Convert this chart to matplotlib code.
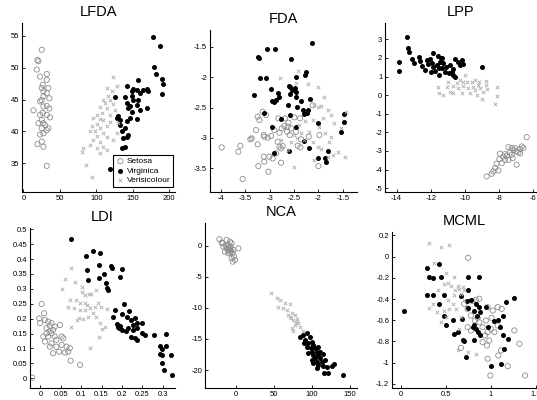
import numpy as np
import matplotlib
matplotlib.use('Agg')
import matplotlib.pyplot as plt

plt.rcParams['font.family'] = ['Liberation Sans', 'DejaVu Sans']

class_names = ['Setosa', 'Virginica', 'Verisicolour']

# ---- LFDA ----
lfda_setosa = [(25.1,52.8),(19.2,51.2),(20.5,51.0),(18.3,49.7),(22.8,48.6),(32.0,49.0),(32.0,48.1),
               (26.5,47.3),(25.1,46.8),(27.4,46.3),(27.4,45.5),(32.0,46.0),(34.2,46.8),(35.6,45.2),
               (25.1,44.9),(22.8,44.7),(13.7,43.3),(32.0,44.0),(27.4,43.9),(35.6,43.6),(26.5,42.9),
               (22.8,42.6),(32.0,42.6),(36.5,42.2),(27.4,41.3),(29.7,41.0),(25.1,40.5),(32.0,40.2),
               (27.4,39.7),(22.8,39.5),(34.2,40.5),(19.2,38.0),(25.1,38.4),(27.4,37.6),(32.0,34.6),
               (25.1,41.8),(20.5,41.3)]
lfda_virginica = [(178.1,54.8),(187.2,53.4),(179.0,50.1),(182.6,49.0),(189.5,48.2),(191.8,47.5),
                  (156.6,48.1),(141.6,47.1),(150.7,46.6),(155.3,46.5),(148.4,46.3),(164.4,46.5),
                  (168.9,46.6),(171.2,46.3),(159.8,46.0),(148.4,45.5),(139.3,45.4),(125.6,45.4),
                  (150.7,44.9),(157.5,44.9),(141.6,44.5),(155.3,44.2),(146.1,44.0),(143.8,43.6),
                  (168.9,43.6),(159.8,43.4),(148.4,43.0),(130.1,42.4),(127.9,42.1),(132.4,41.8),
                  (146.1,42.1),(155.3,41.9),(141.6,41.7),(132.4,41.0),(139.3,40.5),(134.7,40.0),
                  (143.8,39.5),(137.0,38.9),(141.6,39.1),(134.7,37.4),(139.3,37.5),(189.5,45.9),
                  (118.7,34.1)]
lfda_versicolour = [(122.4,48.5),(114.2,46.8),(127.9,47.1),(121.0,46.3),(116.4,45.5),(109.6,44.9),
                    (118.7,44.9),(111.9,44.4),(123.3,44.3),(105.0,43.9),(114.2,43.6),(125.6,43.4),
                    (100.5,42.6),(107.3,42.9),(118.7,42.6),(95.9,42.1),(105.0,41.9),(109.6,41.8),
                    (118.7,41.5),(100.5,41.2),(93.6,40.9),(114.2,40.8),(105.0,40.5),(98.2,40.1),
                    (91.3,40.0),(109.6,39.7),(100.5,39.3),(114.2,39.2),(95.9,38.7),(105.0,38.4),
                    (91.3,37.9),(100.5,37.4),(109.6,37.5),(114.2,37.1),(82.2,37.4),(105.0,36.6),
                    (79.9,36.7),(85.8,34.8),(93.6,32.8),(123.3,38.7),(127.9,39.7),(130.1,41.3)]

# ---- FDA ----
fda_setosa = [(-3.986,-3.156),(-3.603,-3.129),(-3.644,-3.227),(-3.397,-3.024),(-3.370,-3.008),
              (-3.247,-3.106),(-3.123,-2.953),(-3.110,-2.980),(-3.041,-2.997),(-2.973,-2.969),
              (-3.123,-3.309),(-3.110,-3.391),(-3.007,-3.309),(-2.938,-3.337),(-2.870,-3.254),
              (-2.836,-3.063),(-2.801,-3.145),(-2.767,-3.172),(-2.733,-3.134),(-2.904,-2.871),
              (-2.753,-2.843),(-2.699,-2.805),(-3.247,-2.651),(-3.212,-2.706),(-3.075,-2.624),
              (-2.822,-2.679),(-2.685,-2.679),(-2.616,-2.750),(-2.630,-2.816),(-2.562,-2.843),
              (-2.493,-2.662),(-2.377,-2.679),(-2.589,-2.953),(-2.356,-3.024),(-2.459,-2.898),
              (-2.644,-2.898),(-3.233,-3.463),(-3.027,-3.556),(-3.555,-3.677),(-2.767,-3.408),
              (-1.979,-2.953),(-2.000,-3.463),(-2.425,-3.128),(-2.370,-3.156),(-2.199,-2.980),
              (-2.801,-2.914),(-3.281,-2.871),(-2.116,-2.465),(-3.144,-2.569)]
fda_virginica = [(-2.137,-1.445),(-3.233,-1.664),(-3.212,-1.692),(-3.055,-1.544),(-2.884,-1.544),
                 (-2.562,-1.703),(-2.247,-1.911),(-2.274,-1.966),(-3.199,-2.010),(-3.075,-2.010),
                 (-2.452,-2.004),(-3.329,-2.295),(-2.973,-2.202),(-2.822,-2.268),(-2.801,-2.333),
                 (-2.959,-2.388),(-2.904,-2.405),(-2.870,-2.377),(-2.575,-2.169),(-2.596,-2.147),
                 (-2.541,-2.213),(-2.582,-2.284),(-2.473,-2.185),(-2.452,-2.251),(-2.466,-2.333),
                 (-2.356,-2.388),(-2.164,-2.361),(-2.630,-2.454),(-2.438,-2.487),(-2.315,-2.542),
                 (-2.288,-2.613),(-2.226,-2.586),(-2.205,-2.542),(-3.110,-2.596),(-2.767,-2.690),
                 (-2.582,-2.624),(-2.959,-2.816),(-2.459,-2.816),(-2.000,-2.761),(-1.466,-2.607),
                 (-1.466,-2.734),(-2.301,-3.046),(-2.192,-3.161),(-1.808,-3.211),(-1.863,-3.331),
                 (-2.000,-3.337),(-1.842,-3.402),(-2.904,-3.243),(-2.596,-3.216),(-1.534,-2.898)]
fda_versicolour = [(-2.411,-1.900),(-2.781,-2.010),(-2.459,-2.092),(-2.219,-2.114),(-2.014,-2.169),
                   (-1.877,-2.333),(-2.082,-2.459),(-2.014,-2.487),(-1.945,-2.476),(-1.808,-2.542),
                   (-1.740,-2.624),(-1.671,-2.761),(-1.534,-2.843),(-1.911,-2.679),(-2.116,-2.706),
                   (-2.274,-2.717),(-2.390,-2.788),(-2.356,-2.925),(-2.493,-2.953),(-2.288,-3.035),
                   (-2.116,-3.063),(-2.014,-3.145),(-1.945,-3.189),(-1.740,-2.980),(-1.774,-3.063),
                   (-1.603,-3.227),(-1.705,-3.282),(-1.808,-3.309),(-2.096,-3.364),(-2.493,-3.474),
                   (-2.630,-3.200),(-2.767,-3.035),(-2.562,-3.063),(-2.438,-3.008),(-2.185,-2.898),
                   (-1.979,-2.816),(-1.863,-2.925),(-1.432,-2.569),(-1.452,-3.309),(-3.384,-2.980)]

# ---- LPP ----
lpp_setosa = [(-8.44,-4.23),(-8.73,-4.37),(-8.24,-3.92),(-8.15,-3.69),(-7.99,-3.44),(-7.85,-3.65),
              (-7.76,-3.30),(-7.56,-3.26),(-7.66,-3.48),(-7.46,-3.48),(-7.37,-3.08),(-7.27,-3.21),
              (-7.17,-2.94),(-7.07,-2.85),(-6.98,-3.03),(-6.88,-3.08),(-6.78,-2.90),(-6.68,-2.76),
              (-6.59,-2.85),(-6.39,-2.26),(-7.95,-3.15),(-7.46,-2.80),(-7.21,-3.39),(-6.98,-3.74),
              (-8.05,-4.05),(-8.34,-4.10),(-7.66,-3.17),(-7.27,-2.85),(-6.78,-3.14)]
lpp_virginica = [(-13.41,3.11),(-13.32,2.52),(-13.26,2.34),(-13.84,1.80),(-13.84,1.30),(-13.12,1.93),
                 (-12.99,1.75),(-12.67,2.03),(-12.63,1.86),(-12.54,1.57),(-12.34,1.35),(-12.24,1.89),
                 (-12.15,1.68),(-12.05,1.93),(-11.95,1.75),(-11.85,2.28),(-11.89,1.53),(-11.76,1.32),
                 (-11.66,1.62),(-11.56,2.11),(-11.46,1.80),(-11.42,1.98),(-11.54,1.44),(-11.37,1.44),
                 (-11.50,1.09),(-11.27,1.71),(-11.17,1.26),(-11.11,1.53),(-10.88,1.62),(-10.78,1.26),
                 (-10.92,1.18),(-10.72,1.09),(-10.59,1.00),(-10.68,1.39),(-10.59,1.93),(-10.39,1.80),
                 (-10.29,1.62),(-10.20,1.89),(-10.14,1.68),(-11.37,1.98),(-12.01,1.26),(-9.02,1.53)]
lpp_versicolour = [(-11.56,0.42),(-11.50,0.10),(-11.07,0.42),(-10.88,0.19),(-10.68,0.50),(-10.49,0.64),
                   (-10.39,0.37),(-10.29,0.82),(-10.10,0.50),(-10.20,0.14),(-9.90,0.73),(-9.80,0.37),
                   (-9.71,0.10),(-9.61,0.73),(-9.51,0.46),(-9.41,0.28),(-9.32,0.01),(-9.22,0.55),
                   (-9.12,0.37),(-9.02,-0.22),(-9.16,0.73),(-9.41,0.82),(-10.00,1.09),(-10.10,0.73),
                   (-10.68,0.10),(-11.27,0.01),(-10.98,0.73),(-8.77,0.78),(-8.77,0.55),(-8.93,0.19),
                   (-8.73,0.32),(-8.11,0.42),(-8.15,-0.04),(-8.24,-0.47)]

# ---- LDI ----
ldi_setosa = [(-0.003,0.201),(0.003,0.249),(0.009,0.218),(-0.001,0.185),(0.011,0.196),(0.019,0.190),
              (0.023,0.176),(0.015,0.168),(0.022,0.157),(0.027,0.151),(0.019,0.140),(0.031,0.162),
              (0.035,0.140),(0.007,0.140),(0.011,0.123),(0.027,0.117),(0.039,0.129),(0.048,0.179),
              (0.052,0.140),(0.056,0.134),(0.039,0.106),(0.052,0.112),(0.064,0.106),(0.031,0.084),
              (0.046,0.089),(0.060,0.086),(0.068,0.089),(0.072,0.101),(0.074,0.059),(0.097,0.045),
              (0.023,0.106),(0.015,0.151),(0.027,0.185),(0.035,0.173),(-0.020,0.002)]
ldi_virginica = [(0.074,0.466),(0.128,0.428),(0.111,0.411),(0.147,0.419),(0.117,0.330),(0.115,0.364),
                 (0.144,0.380),(0.144,0.336),(0.156,0.350),(0.160,0.319),(0.164,0.302),(0.166,0.296),
                 (0.174,0.377),(0.175,0.369),(0.195,0.341),(0.201,0.367),(0.204,0.248),(0.218,0.226),
                 (0.221,0.196),(0.201,0.215),(0.213,0.207),(0.191,0.173),(0.188,0.182),(0.196,0.176),
                 (0.193,0.168),(0.199,0.162),(0.215,0.168),(0.211,0.159),(0.231,0.201),(0.227,0.179),
                 (0.237,0.187),(0.236,0.168),(0.226,0.162),(0.250,0.185),(0.250,0.151),(0.223,0.140),
                 (0.231,0.134),(0.236,0.129),(0.256,0.145),(0.278,0.144),(0.307,0.149),(0.294,0.109),
                 (0.309,0.109),(0.297,0.097),(0.293,0.082),(0.299,0.077),(0.297,0.050),(0.302,0.028),
                 (0.321,0.078),(0.323,0.012),(0.182,0.229),(0.178,0.207)]
ldi_versicolour = [(0.074,0.369),(0.060,0.334),(0.054,0.299),(0.085,0.324),(0.103,0.305),(0.101,0.291),
                   (0.120,0.283),(0.125,0.283),(0.109,0.280),(0.137,0.296),(0.072,0.261),(0.087,0.261),
                   (0.097,0.252),(0.109,0.254),(0.115,0.246),(0.121,0.235),(0.134,0.238),(0.142,0.252),
                   (0.149,0.240),(0.162,0.232),(0.068,0.240),(0.082,0.235),(0.097,0.229),(0.109,0.229),
                   (0.117,0.207),(0.129,0.218),(0.137,0.205),(0.095,0.201),(0.105,0.198),(0.090,0.194),
                   (0.146,0.185),(0.150,0.166),(0.158,0.173),(0.144,0.140),(0.121,0.101),(0.076,0.173)]

# ---- NCA ----
nca_setosa = [(-21.9,1.08),(-18.9,0.54),(-16.7,-0.11),(-12.3,0.97),(-10.1,0.16),(-7.9,-0.38),
              (-5.7,0.43),(-3.5,-0.65),(-2.6,-1.72),(-5.7,-1.99),(-1.3,-2.26),(-4.4,-2.53),
              (3.1,-0.38),(-14.5,-0.91),(-17.5,0.43),(-10.1,-1.18),(-12.3,-0.38),(-7.9,0.70),
              (-13.2,0.0),(-8.8,-0.65),(-7.0,-0.11),(-4.4,-1.18),(-9.5,-0.3),(-6.5,-0.8),
              (-11.0,-0.6),(-8.0,-1.0)]
nca_virginica = [(84.2,-14.6),(88.6,-14.35),(93.0,-14.09),(97.4,-14.62),(90.8,-15.16),(95.2,-15.70),
                 (99.6,-15.43),(101.8,-15.97),(93.0,-16.24),(98.2,-16.51),(103.9,-16.51),(106.1,-17.04),
                 (99.6,-17.04),(95.2,-17.31),(101.8,-17.58),(108.3,-17.58),(110.5,-18.12),(103.9,-18.12),
                 (99.6,-18.39),(106.1,-18.66),(112.7,-18.66),(117.1,-18.39),(108.3,-19.19),(114.0,-19.35),
                 (107.0,-19.73),(119.3,-19.46),(125.9,-19.35),(129.0,-19.03),(115.8,-20.54),(121.5,-20.43),
                 (141.2,-20.81),(101.8,-18.92),(110.5,-17.04),(114.9,-17.42),(89.5,-15.70),(108.3,-16.24)]
nca_versicolour = [(45.6,-7.63),(53.5,-8.44),(57.9,-8.71),(55.7,-9.78),(64.5,-9.25),(62.3,-10.05),
                   (71.1,-9.35),(66.7,-10.32),(68.9,-11.13),(73.2,-10.86),(71.9,-11.67),(77.6,-11.13),
                   (75.4,-11.94),(79.8,-11.83),(82.0,-12.47),(77.6,-12.74),(84.2,-13.01),(73.2,-13.28),
                   (75.4,-13.66),(88.6,-13.66),(78.9,-12.2),(71.1,-11.4)]

# ---- MCML ----
mcml_setosa = [(0.748,-0.011),(0.704,-0.445),(0.741,-0.492),(0.778,-0.555),(0.852,-0.577),(0.870,-0.618),
               (0.822,-0.602),(0.907,-0.665),(0.944,-0.602),(0.963,-0.712),(0.933,-0.743),(1.000,-0.681),
               (1.037,-0.712),(1.074,-0.649),(0.981,-0.791),(0.956,-0.838),(0.907,-0.806),(1.074,-0.476),
               (1.119,-0.492),(0.870,-0.397),(0.833,-0.407),(0.796,-0.419),(1.019,-0.508),(0.963,-0.476),
               (1.259,-0.696),(1.315,-0.822),(1.111,-0.885),(1.081,-0.932),(0.963,-0.963),(1.185,-1.033),
               (0.993,-1.121),(1.378,-1.121),(0.667,-0.860),(0.778,-0.696),(0.741,-0.665),(1.007,-0.577)]
mcml_virginica = [(0.037,-0.508),(0.289,-0.105),(0.315,-0.187),(0.352,-0.199),(0.426,-0.067),(0.444,-0.187),
                  (0.289,-0.357),(0.352,-0.366),(0.426,-0.451),(0.474,-0.357),(0.481,-0.555),(0.500,-0.640),
                  (0.574,-0.596),(0.585,-0.728),(0.630,-0.712),(0.674,-0.586),(0.667,-0.375),(0.685,-0.784),
                  (0.704,-0.791),(0.722,-0.948),(0.748,-0.187),(0.741,-0.319),(0.733,-0.419),(0.748,-0.482),
                  (0.778,-0.413),(0.807,-0.508),(0.833,-0.451),(0.844,-0.555),(0.870,-0.187),(0.870,-0.470),
                  (0.878,-0.523),(0.815,-0.640),(0.796,-0.665),(0.833,-0.681),(0.852,-0.712),(0.878,-0.743),
                  (0.815,-0.784),(0.944,-0.470),(0.970,-0.659),(1.030,-0.608),(1.081,-0.602),(1.104,-0.665),
                  (1.130,-0.555),(1.167,-0.426),(1.259,-0.391),(1.193,-0.775),(1.130,-0.743),(1.141,-0.869),
                  (1.000,-1.033),(1.111,-1.017)]
mcml_versicolour = [(0.315,0.128),(0.444,0.096),(0.537,0.106),(0.370,-0.061),(0.500,-0.155),(0.526,-0.250),
                    (0.474,-0.262),(0.556,-0.281),(0.600,-0.313),(0.630,-0.272),(0.648,-0.303),(0.585,-0.366),
                    (0.526,-0.407),(0.667,-0.350),(0.685,-0.288),(0.704,-0.319),(0.611,-0.492),(0.537,-0.492),
                    (0.474,-0.508),(0.500,-0.570),(0.407,-0.523),(0.352,-0.445),(0.315,-0.482),(0.444,-0.618),
                    (0.667,-0.570),(0.648,-0.681),(0.630,-0.879),(0.741,-0.901),(0.833,-0.917),(0.574,-0.445),
                    (0.696,-0.413),(0.415,-0.319),(0.593,-0.193)]

W, H = 537, 400

# title, data, axes box in pixels (left, top, right, bottom), xlim, ylim, xticks, yticks
panels = [
    ('LFDA', (lfda_setosa, lfda_virginica, lfda_versicolour), (22, 23, 175, 192),
     (-2, 208), (30.5, 57.0), [0, 50, 100, 150, 200], [35, 40, 45, 50, 55]),
    ('FDA', (fda_setosa, fda_virginica, fda_versicolour), (210, 30, 357, 192),
     (-4.226, -1.207), (-3.89, -1.225), [-4, -3.5, -3, -2.5, -2, -1.5], [-3.5, -3, -2.5, -2, -1.5]),
    ('LPP', (lpp_setosa, lpp_virginica, lpp_versicolour), (385, 23, 537, 192),
     (-14.68, -5.79), (-5.21, 3.88), [-14, -12, -10, -8, -6], [-5, -4, -3, -2, -1, 0, 1, 2, 3]),
    ('LDI', (ldi_setosa, ldi_virginica, ldi_versicolour), (30, 228, 175, 388),
     (-0.0257, 0.33), (-0.0326, 0.504), [0, 0.05, 0.1, 0.15, 0.2, 0.25, 0.3],
     [0, 0.05, 0.1, 0.15, 0.2, 0.25, 0.3, 0.35, 0.4, 0.45, 0.5]),
    ('NCA', (nca_setosa, nca_virginica, nca_versicolour), (205, 223, 357, 388),
     (-40.8, 159), (-22.9, 3.7), [0, 50, 100, 150], [-20, -15, -10, -5, 0]),
    ('MCML', (mcml_setosa, mcml_virginica, mcml_versicolour), (392, 232, 537, 388),
     (-0.097, 1.51), (-1.239, 0.233), [0, 0.5, 1, 1.5], [-1.2, -1, -0.8, -0.6, -0.4, -0.2, 0, 0.2]),
]

fig = plt.figure(figsize=(W / 100, H / 100), dpi=100)

for title, (se, vi, ve), (l, t, r, b), xl, yl, xt, yt in panels:
    ax = fig.add_axes([l / W, 1 - b / H, (r - l) / W, (b - t) / H])
    se = np.array(se); vi = np.array(vi); ve = np.array(ve)
    h1 = ax.scatter(se[:, 0], se[:, 1], s=14, facecolors='none', edgecolors='#8c8c8c', linewidths=0.6)
    h2 = ax.scatter(vi[:, 0], vi[:, 1], s=13, c='black', linewidths=0)
    h3 = ax.scatter(ve[:, 0], ve[:, 1], s=6, marker='x', c='#a8a8a8', linewidths=0.6)
    ax.set_xlim(*xl)
    ax.set_ylim(*yl)
    ax.set_xticks(xt)
    ax.set_yticks(yt)
    ax.set_xticklabels(['%g' % v for v in xt])
    ax.set_yticklabels(['%g' % v for v in yt])
    ax.tick_params(direction='in', length=2, width=0.6, labelsize=5.5, pad=2)
    for side in ['top', 'right']:
        ax.spines[side].set_visible(False)
    for side in ['left', 'bottom']:
        ax.spines[side].set_linewidth(0.8)
    ax.set_title(title, fontsize=10.5, pad=5)
    if title == 'LFDA':
        leg = ax.legend([h1, h2, h3], class_names, loc='lower right', bbox_to_anchor=(1.0, 0.02),
                        fontsize=6, fancybox=False, framealpha=1, edgecolor='black',
                        handletextpad=0.2, borderpad=0.3, labelspacing=0.2, handlelength=1.2,
                        borderaxespad=0.2)
        leg.get_frame().set_linewidth(0.8)

fig.savefig('out.png', dpi=100)
